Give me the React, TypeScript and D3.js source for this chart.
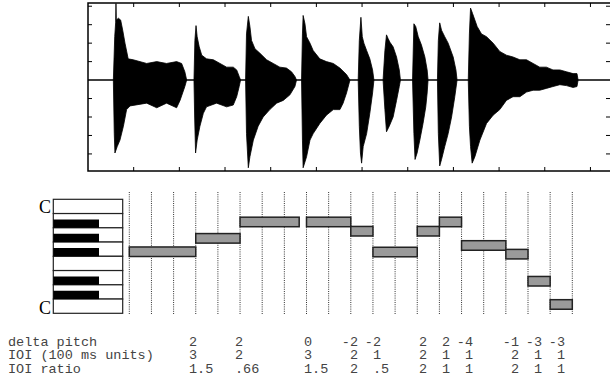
import React from 'react';
import * as d3 from 'd3';

// ---- waveform envelopes, [time (s), amplitude], one list per note ----
const waveUpper: [number, number][][] = [
  [[0.111, 0], [0.117, 0.47], [0.121, 0.62], [0.1225, 0.83], [0.124, 0.65], [0.133, 0.67], [0.143, 0.65], [0.152, 0.54], [0.162, 0.4], [0.176, 0.23], [0.198, 0.22], [0.257, 0.18], [0.301, 0.2], [0.344, 0.18], [0.388, 0.2], [0.41, 0.18], [0.424, 0.09], [0.432, 0]],
  [[0.464, 0], [0.468, 0.43], [0.473, 0.59], [0.478, 0.47], [0.487, 0.36], [0.498, 0.27], [0.519, 0.23], [0.549, 0.22], [0.578, 0.18], [0.607, 0.14], [0.636, 0.14], [0.651, 0.11], [0.662, 0.04], [0.668, 0]],
  [[0.69, 0], [0.694, 0.5], [0.702, 0.69], [0.709, 0.58], [0.716, 0.43], [0.731, 0.34], [0.753, 0.29], [0.782, 0.22], [0.811, 0.18], [0.84, 0.14], [0.869, 0.13], [0.891, 0.09], [0.906, 0.04], [0.913, 0]],
  [[0.935, 0], [0.939, 0.5], [0.942, 0.7], [0.95, 0.61], [0.957, 0.47], [0.972, 0.4], [0.986, 0.32], [1.015, 0.23], [1.044, 0.2], [1.074, 0.18], [1.103, 0.13], [1.132, 0.06], [1.147, 0]],
  [[1.183, 0], [1.188, 0.43], [1.195, 0.68], [1.201, 0.47], [1.208, 0.4], [1.22, 0.32], [1.234, 0.23], [1.246, 0.11], [1.252, 0]],
  [[1.292, 0], [1.3, 0.32], [1.307, 0.49], [1.314, 0.45], [1.322, 0.41], [1.336, 0.36], [1.351, 0.25], [1.363, 0.11], [1.368, 0]],
  [[1.421, 0], [1.427, 0.61], [1.435, 0.58], [1.446, 0.47], [1.46, 0.38], [1.475, 0.25], [1.485, 0.11], [1.489, 0]],
  [[1.53, 0], [1.534, 0.43], [1.54, 0.62], [1.548, 0.54], [1.562, 0.47], [1.577, 0.4], [1.599, 0.25], [1.611, 0.11], [1.616, 0]],
  [[1.665, 0], [1.67, 0.5], [1.675, 0.78], [1.684, 0.72], [1.694, 0.65], [1.704, 0.58], [1.723, 0.5], [1.745, 0.47], [1.774, 0.4], [1.803, 0.31], [1.832, 0.27], [1.861, 0.25], [1.891, 0.22], [1.92, 0.22], [1.949, 0.18], [1.978, 0.14], [2.007, 0.14], [2.036, 0.11], [2.066, 0.11], [2.095, 0.09], [2.124, 0.07], [2.141, 0.07], [2.146, 0]],
];

const waveLower: [number, number][][] = [
  [[0.111, 0], [0.115, -0.58], [0.118, -0.79], [0.128, -0.72], [0.14, -0.65], [0.155, -0.5], [0.169, -0.32], [0.184, -0.28], [0.257, -0.25], [0.301, -0.3], [0.344, -0.25], [0.388, -0.3], [0.403, -0.22], [0.424, -0.07], [0.432, 0]],
  [[0.464, 0], [0.467, -0.4], [0.471, -0.79], [0.478, -0.65], [0.49, -0.5], [0.505, -0.36], [0.519, -0.29], [0.563, -0.25], [0.607, -0.29], [0.636, -0.27], [0.651, -0.18], [0.662, -0.07], [0.668, 0]],
  [[0.69, 0], [0.694, -0.58], [0.702, -0.95], [0.709, -0.83], [0.724, -0.65], [0.745, -0.5], [0.767, -0.4], [0.796, -0.32], [0.826, -0.25], [0.855, -0.22], [0.884, -0.16], [0.906, -0.07], [0.913, 0]],
  [[0.935, 0], [0.939, -0.65], [0.942, -0.95], [0.957, -0.83], [0.972, -0.65], [0.986, -0.58], [1.015, -0.47], [1.044, -0.38], [1.074, -0.32], [1.103, -0.32], [1.117, -0.25], [1.132, -0.14], [1.147, 0]],
  [[1.183, 0], [1.188, -0.5], [1.193, -0.79], [1.198, -0.9], [1.205, -0.72], [1.22, -0.58], [1.234, -0.36], [1.246, -0.14], [1.252, 0]],
  [[1.292, 0], [1.3, -0.32], [1.307, -0.56], [1.319, -0.5], [1.336, -0.4], [1.351, -0.22], [1.363, -0.07], [1.368, 0]],
  [[1.421, 0], [1.427, -0.58], [1.432, -0.86], [1.441, -0.79], [1.453, -0.65], [1.467, -0.47], [1.479, -0.29], [1.485, -0.14], [1.489, 0]],
  [[1.53, 0], [1.534, -0.58], [1.54, -0.93], [1.548, -0.86], [1.562, -0.72], [1.577, -0.58], [1.592, -0.4], [1.606, -0.18], [1.616, 0]],
  [[1.665, 0], [1.67, -0.5], [1.675, -0.72], [1.682, -0.9], [1.694, -0.83], [1.716, -0.65], [1.745, -0.47], [1.774, -0.38], [1.803, -0.32], [1.832, -0.22], [1.861, -0.18], [1.891, -0.18], [1.92, -0.13], [1.949, -0.11], [1.978, -0.11], [2.007, -0.09], [2.036, -0.07], [2.066, -0.05], [2.095, -0.06], [2.124, -0.08], [2.141, -0.07], [2.146, 0]],
];

// ---- piano roll: onsets / offsets in 100 ms units, pitch row in white-key units ----
const noteOn = [0, 3, 5, 8, 10, 11, 13, 14, 15, 17, 18, 19];
const noteOff = [3, 5, 7.67, 10, 11, 13, 14, 15, 17, 18, 19, 20];
const noteRow = [4.32, 5.26, 6.41, 6.41, 5.76, 4.3, 5.76, 6.41, 4.76, 4.15, 2.25, 0.62];

// keyboard, top to bottom
const whiteKeys = ['C', 'B', 'A', 'G', 'F', 'E', 'D', 'C'];
const hasBlack = [false, true, true, true, false, true, true, false];

// table under the roll (one value per note from the 2nd on)
const rowLabels = ['delta pitch', 'IOI (100 ms units)', 'IOI ratio'];
const deltaPitch = ['2', '2', '0', '-2', '-2', '2', '2', '-4', '-1', '-3', '-3'];
const ioi = ['3', '2', '3', '2', '1', '2', '1', '1', '2', '1', '1'];
const ioiRatio = ['1.5', '.66', '1.5', '2', '.5', '2', '1', '1', '2', '1', '1'];

const App = () => {
  // waveform panel
  const x = d3.scaleLinear().domain([0, 2.29]).range([88, 611]);
  const y = d3.scaleLinear().domain([-0.985, 0.835]).range([171, 3]);
  const line = d3.line<[number, number]>().x(d => x(d[0])).y(d => y(d[1]));
  const xTicks = d3.range(1, 12).map(i => i * 0.2);
  const yTicks = [-0.8, -0.6, -0.4, -0.2, 0.2, 0.4, 0.6, 0.8];

  // roll panel
  const xr = d3.scaleLinear().domain([0, 20]).range([129.3, 572.3]);
  const yk = d3.scaleLinear().domain([0, 8]).range([313.3, 199.3]);
  const keyH = yk(0) - yk(1);
  const barH = keyH * 0.67;

  // typed table columns run a little wider than the roll
  const xt = d3.scaleLinear().domain([0, 20]).range([124, 584]);
  const cw = 8.1;
  const rows = [deltaPitch, ioi, ioiRatio];
  const anchors = ['end', 'middle', 'start'];
  const shift = [cw / 2, 0, -cw / 2];
  const rowY = [345.5, 359, 372.5];
  const mono = '"Liberation Mono", "DejaVu Sans Mono", monospace';

  return (
    <svg width={610} height={385} style={{ position: 'absolute', left: 0, top: 0 }}>
      <rect width={610} height={385} fill="#fff" />
      {/* waveform */}
      <line x1={x(0)} x2={x(2.29)} y1={y(0)} y2={y(0)} stroke="#000" strokeWidth={1.5} />
      {waveUpper.map((up, i) => (
        <path key={i} d={line(up.concat(waveLower[i].slice().reverse())) + 'Z'} fill="#000" stroke="#000" strokeWidth={0.8} />
      ))}
      <rect x={88} y={3} width={523} height={168} fill="none" stroke="#000" strokeWidth={1.5} />
      {xTicks.map(t => (
        <g key={t}>
          <line x1={x(t)} x2={x(t)} y1={3} y2={7} stroke="#000" />
          <line x1={x(t)} x2={x(t)} y1={171} y2={167} stroke="#000" />
        </g>
      ))}
      {yTicks.map(v => (
        <g key={v}>
          <line x1={88} x2={92} y1={y(v)} y2={y(v)} stroke="#000" />
          <line x1={610} x2={606} y1={y(v)} y2={y(v)} stroke="#000" />
        </g>
      ))}

      {/* grid */}
      {d3.range(0, 21).map(g => (
        <line key={g} x1={xr(g)} x2={xr(g)} y1={192} y2={315} stroke="#333" strokeWidth={1} strokeDasharray="1,1.2" />
      ))}

      {/* keyboard */}
      {whiteKeys.map((k, i) => (
        <rect key={'w' + i} x={53.3} y={yk(8 - i)} width={69.4} height={keyH} fill="#fff" stroke="#222" strokeWidth={1.2} />
      ))}
      {hasBlack.map((b, i) => b && (
        <rect key={'b' + i} x={53.3} y={yk(7 - i) - 8.3} width={45.7} height={8.3} fill="#000" />
      ))}
      <text x={51} y={213} textAnchor="end" fontFamily='"Liberation Serif", serif' fontSize={18}>C</text>
      <text x={51} y={313.5} textAnchor="end" fontFamily='"Liberation Serif", serif' fontSize={18}>C</text>

      {/* notes */}
      {noteOn.map((on, i) => (
        <rect key={'n' + i} x={xr(on)} y={yk(noteRow[i]) - barH / 2} width={xr(noteOff[i]) - xr(on)} height={barH}
          fill="#9a9a9a" stroke="#222" strokeWidth={1.5} />
      ))}

      {/* table */}
      {rowLabels.map((l, r) => (
        <text key={l} x={8} y={rowY[r]} fontFamily={mono} fontSize={13.5} fill="#444" style={{ whiteSpace: 'pre' }}>{l}</text>
      ))}
      {rows.map((vals, r) => vals.map((v, i) => (
        <text key={r + '-' + i} x={xt(noteOn[i + 1]) + shift[r]} y={rowY[r]} textAnchor={anchors[r]}
          fontFamily={mono} fontSize={13.5} fill="#444">{v}</text>
      )))}
    </svg>
  );
};

export default App;
